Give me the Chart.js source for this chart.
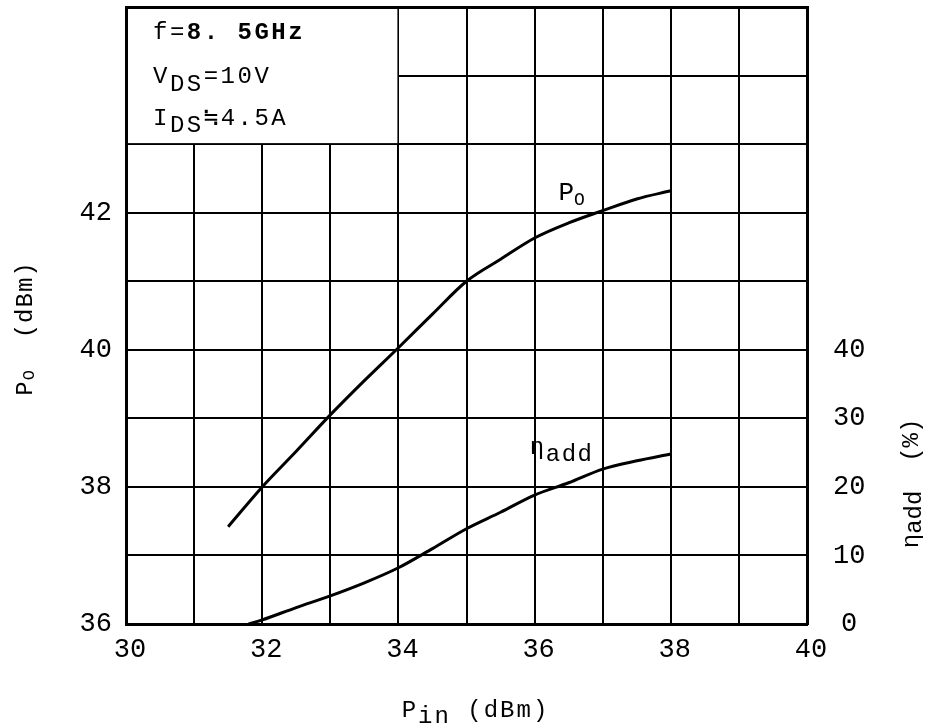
<!DOCTYPE html>
<html>
<head>
<meta charset="utf-8">
<script src="https://cdn.jsdelivr.net/npm/chart.js@4.4.1/dist/chart.umd.min.js"></script>
<style>
  html, body { margin: 0; padding: 0; background: #fff; }
  canvas { display: block; }
</style>
</head>
<body>
<canvas id="chart" width="934" height="728"></canvas>
<script>
// values
const pinPo = [31.5, 32, 32.5, 33, 33.5, 34, 34.5, 35, 35.5, 36, 36.5, 37, 37.5, 38];
const po    = [37.42, 38.0, 38.52, 39.05, 39.55, 40.03, 40.52, 41.0, 41.32, 41.63, 41.85, 42.03, 42.2, 42.32];

const pinEta = [31.8, 32, 32.5, 33, 33.5, 34, 34.5, 35, 35.5, 36, 36.5, 37, 37.5, 38];
const eta    = [0, 0.6, 2.4, 4.1, 6.0, 8.2, 11.0, 13.9, 16.3, 18.8, 20.6, 22.6, 23.8, 24.8];

const xLabels  = [30, 32, 34, 36, 38, 40];
const poLabels = [36, 38, 40, 42];
const etaLabels = [0, 10, 20, 30, 40];

const FONT = "'Liberation Mono', 'Courier New', monospace";

Chart.defaults.font.family = FONT;
Chart.defaults.color = '#000';

// draw a run of text pieces: [text, size, dy, bold]
function drawParts(ctx, parts, x, y, spacing) {
  ctx.save();
  ctx.letterSpacing = (spacing || 0) + 'px';
  ctx.textBaseline = 'alphabetic';
  ctx.textAlign = 'left';
  let cx = x;
  parts.forEach(p => {
    ctx.font = (p[3] ? 'bold ' : '') + p[1] + 'px ' + FONT;
    ctx.fillText(p[0], cx, y + p[2]);
    cx += ctx.measureText(p[0]).width;
  });
  ctx.restore();
  return cx - x;
}

function partsWidth(ctx, parts, spacing) {
  ctx.save();
  ctx.letterSpacing = (spacing || 0) + 'px';
  let w = 0;
  parts.forEach(p => {
    ctx.font = (p[3] ? 'bold ' : '') + p[1] + 'px ' + FONT;
    w += ctx.measureText(p[0]).width;
  });
  ctx.restore();
  return w;
}

function noPad(s) {
  s.paddingTop = 0; s.paddingBottom = 0;
  s.paddingLeft = 0; s.paddingRight = 0;
}

const textPlugin = {
  id: 'texts',
  beforeDatasetsDraw(chart) {
    const ctx = chart.ctx;
    const xs = chart.scales.x, ys = chart.scales.y;
    // conditions box in the top-left cells
    const l = xs.getPixelForValue(30), r = xs.getPixelForValue(34);
    const t = ys.getPixelForValue(45), b = ys.getPixelForValue(43);
    ctx.save();
    ctx.fillStyle = '#fff';
    ctx.fillRect(l + 2, t + 2, r - l - 3, b - t - 3);
    ctx.fillStyle = '#000';
    drawParts(ctx, [['f=', 24, 0], ['8. 5GHz', 24, 0, true]], l + 27, t + 32, 2.5);
    drawParts(ctx, [['V', 24, 0], ['DS', 24, 8], ['=10V', 24, 0]], l + 27, t + 76, 2.5);
    drawParts(ctx, [['I', 24, 0], ['DS', 24, 7], ['\u2252', 24, 0], ['4.5A', 24, 0]], l + 27, t + 118, 2.5);
    ctx.restore();
  },
  afterDraw(chart) {
    const ctx = chart.ctx;
    const a = chart.chartArea;
    const xs = chart.scales.x, ys = chart.scales.y, y2 = chart.scales.y2;
    ctx.save();
    ctx.fillStyle = '#000';

    // curve labels
    drawParts(ctx, [['P', 26, 0], ['O', 18, 5]], xs.getPixelForValue(36.35), ys.getPixelForValue(42.18));
    drawParts(ctx, [['\u03B7', 24, 0], ['add', 24, 7]], xs.getPixelForValue(35.93), y2.getPixelForValue(24.8), 1.5);

    // x title
    const xt = [['P', 24, 0], ['in', 24, 6], [' (dBm)', 24, 0]];
    const xw = partsWidth(ctx, xt, 2);
    drawParts(ctx, xt, (a.left + a.right) / 2 + 9 - xw / 2, a.bottom + 93, 2);

    // left title
    const lt = [['P', 24, 0], ['O', 17, 2], ['  (dBm)', 24, 0]];
    const lw = partsWidth(ctx, lt, 1);
    ctx.save();
    ctx.translate(a.left - 94, (a.top + a.bottom) / 2 + 13);
    ctx.rotate(-Math.PI / 2);
    drawParts(ctx, lt, -lw / 2, 0, 1);
    ctx.restore();

    // right title
    const rt = [['\u03B7', 24, 0], ['add', 24, 3], ['  (%)', 24, 0]];
    const rw = partsWidth(ctx, rt);
    ctx.save();
    ctx.translate(a.right + 111, y2.getPixelForValue(20.5));
    ctx.rotate(-Math.PI / 2);
    drawParts(ctx, rt, -rw / 2, 0);
    ctx.restore();

    ctx.restore();
  }
};

new Chart(document.getElementById('chart'), {
  type: 'line',
  data: {
    datasets: [
      {
        label: 'Po',
        data: pinPo.map((v, i) => ({ x: v, y: po[i] })),
        yAxisID: 'y',
        borderColor: '#000',
        borderWidth: 3,
        pointRadius: 0,
        cubicInterpolationMode: 'monotone'
      },
      {
        label: 'nadd',
        data: pinEta.map((v, i) => ({ x: v, y: eta[i] })),
        yAxisID: 'y2',
        borderColor: '#000',
        borderWidth: 3,
        pointRadius: 0,
        cubicInterpolationMode: 'monotone'
      }
    ]
  },
  options: {
    responsive: false,
    animation: false,
    layout: { padding: { top: 7, left: 0, right: 0, bottom: 0 } },
    plugins: {
      legend: { display: false },
      tooltip: { enabled: false },
      title: { display: false }
    },
    scales: {
      x: {
        type: 'linear',
        min: 30,
        max: 40,
        afterFit: s => { s.height = 104; noPad(s); },
        grid: {
          color: '#000',
          lineWidth: c => (c.tick && c.tick.value === 40) ? 3 : 2,
          drawTicks: false
        },
        border: { display: true, color: '#000', width: 3 },
        ticks: {
          stepSize: 1,
          autoSkip: false,
          maxRotation: 0,
          padding: 10,
          labelOffset: 4,
          font: { size: 27 },
          callback: v => xLabels.includes(v) ? String(v) : ''
        }
      },
      y: {
        position: 'left',
        min: 36,
        max: 45,
        afterFit: s => { s.width = 126; noPad(s); },
        grid: {
          color: '#000',
          lineWidth: c => (c.tick && c.tick.value === 45) ? 3 : 2,
          drawTicks: false
        },
        border: { display: true, color: '#000', width: 3 },
        ticks: {
          stepSize: 1,
          autoSkip: false,
          padding: 14,
          font: { size: 27 },
          callback: v => poLabels.includes(v) ? String(v) : ''
        }
      },
      y2: {
        position: 'right',
        min: 0,
        max: 90,
        afterFit: s => { s.width = 127; noPad(s); },
        grid: { display: false, drawTicks: false },
        border: { display: true, color: '#000', width: 3 },
        ticks: {
          stepSize: 10,
          autoSkip: false,
          padding: 26,
          crossAlign: 'center',
          font: { size: 27 },
          callback: v => etaLabels.includes(v) ? String(v) : ''
        }
      }
    }
  },
  plugins: [textPlugin]
});
</script>
</body>
</html>
